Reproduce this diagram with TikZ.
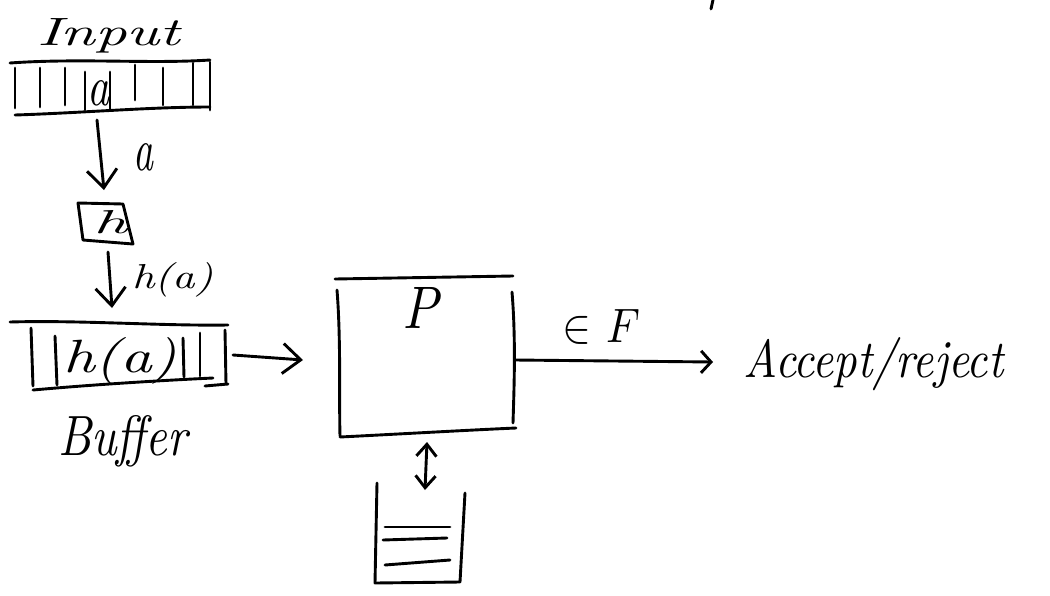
\documentclass[tikz,border=0pt]{standalone}
\usepackage{graphicx}
\usetikzlibrary{arrows.meta}
\newcommand\handtext[3]{\resizebox{#1}{#2}{\itshape #3}}
\begin{document}
\begin{tikzpicture}[x=1pt,y=-1pt,
  ink/.style={line width=2.9pt, line cap=round, line join=round},
  flow/.style={ink, -{Straight Barb[length=18pt,width=30pt]}},
  smallflow/.style={ink, -{Straight Barb[length=10pt,width=22pt]}},
  both/.style={ink, {Straight Barb[length=12pt,width=20pt]}-{Straight Barb[length=12pt,width=20pt]}},
  lbl/.style={inner sep=0pt, anchor=base west}]
\useasboundingbox (0,0) rectangle (1050,595);

% cut-off stroke at the top edge
\draw[ink] (713,0) -- (711,9);

% ---- input tape ----
\node[lbl] (inlbl) at (37,45) {\handtext{143pt}{27pt}{Input}};
\draw[ink] (10,63) .. controls (80,58) and (150,64) .. (210,60);
\draw[ink] (15,115) .. controls (80,113) and (150,107) .. (210,107);
\foreach \x/\a/\b in {15/68/108, 40/68/107, 65/68/105, 85/72/110, 110/72/110,
                      135/65/100, 163/68/105, 193/63/105, 210/62/110}
  \draw[ink] (\x,\a) -- (\x,\b);
\node[lbl] (cell) at (87,105) {\handtext{22pt}{25pt}{a}};
\coordinate (tapeout) at (97,120);

% ---- hash box ----
\draw[ink] (78,203) -- (123,204) -- (133,244) -- (83,240) -- cycle;
\node[lbl] (hfun) at (93,233) {\handtext{34pt}{23pt}{h}};
\coordinate (hin) at (104,190);
\coordinate (hout) at (108,252);

\draw[flow] (tapeout) -- (hin);
\node[lbl] (alabel) at (133,170) {\handtext{20pt}{27pt}{a}};

% ---- buffer ----
\draw[ink] (10,322) .. controls (80,320) and (160,326) .. (228,325);
\draw[ink] (31,328) -- (33,386);
\draw[ink] (33,390) .. controls (100,384) and (170,380) .. (213,378);
\draw[ink] (205,386) -- (228,384);
\draw[ink] (225,330) -- (226,384);
\draw[ink] (55,336) -- (57,385);
\draw[ink] (183,338) -- (184,377);
\draw[ink] (200,333) -- (200,376);
\node[lbl] (buftext) at (63,372) {\handtext{114pt}{35pt}{h(a)}};
\coordinate (bufin) at (112,308);
\coordinate (bufout) at (233,355);
\node[lbl] (buflbl) at (58,455) {\handtext{129pt}{40pt}{Buffer}};

\draw[flow] (hout) -- (bufin);
\node[lbl] (halabel) at (132,288) {\handtext{81pt}{26pt}{h(a)}};

% ---- processor P ----
\draw[ink] (335,279) -- (513,276);
\draw[ink] (337,290) .. controls (341,340) and (339,400) .. (340,436);
\draw[ink] (340,437) .. controls (400,434) and (470,430) .. (516,428);
\draw[ink] (512,292) .. controls (516,340) and (514,390) .. (513,423);
\node[lbl] (proc) at (402,328) {\handtext{36pt}{41pt}{P}};
\coordinate (pin) at (303,360);
\coordinate (pout) at (515,360);
\coordinate (pbottom) at (427,442);

\draw[flow] (bufout) -- (pin);

% ---- stack ----
\draw[ink] (377,483) -- (375,583) -- (460,582) -- (465,493);
\draw[ink] (385,527) -- (450,527);
\draw[ink] (383,540) -- (447,538);
\draw[ink] (385,565) -- (450,560);
\coordinate (stacktop) at (425,490);

\draw[both] (pbottom) -- (stacktop);

% ---- output ----
\node[lbl] (out) at (743,377) {\handtext{260pt}{40pt}{Accept/reject}};
\coordinate (outin) at (713,362);
\draw[smallflow] (pout) -- (outin);
\node[lbl] (final) at (562,342) {\resizebox{78pt}{33pt}{$\in$\hspace{0.35em}$F$}};

\end{tikzpicture}
\end{document}
